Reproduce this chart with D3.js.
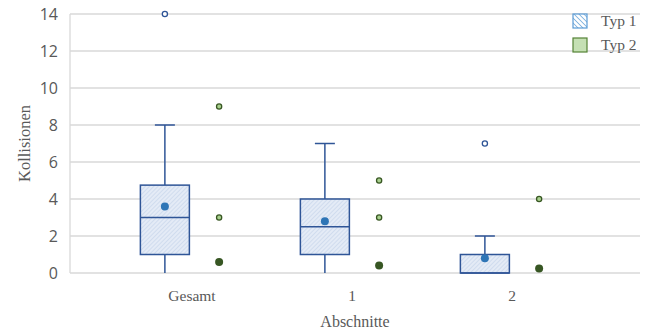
<!DOCTYPE html>
<html>
<head>
<meta charset="utf-8">
<script src="https://cdn.jsdelivr.net/npm/d3@7"></script>
<style>
  body { margin: 0; background: #fff; }
  svg text { fill: #595959; }
</style>
</head>
<body>
<div id="chart"></div>
<script>
// categories and series
const sections = ["Gesamt", "1", "2"];
const types = ["Typ 1", "Typ 2"];
const yTicks = [0, 2, 4, 6, 8, 10, 12, 14];

// box stats per section: [min, q1, median, q3, max]
const typ1Boxes = [[0, 1, 3, 4.75, 8], [0, 1, 2.5, 4, 7], [0, 0, 0, 1, 2]];
const typ1Means = [3.6, 2.8, 0.8];
const typ1Outliers = [[14], [], [7]];

const typ2Boxes = [[0, 0, 0, 0, 0], [0, 0, 0, 0, 0], [0, 0, 0, 0, 0]];
const typ2Means = [0.6, 0.4, 0.25];
const typ2Outliers = [[9, 3], [5, 3], [4]];

const W = 645, H = 330;
const plot = {left: 70, right: 640, top: 14, bottom: 273};

const svg = d3.select("#chart").append("svg")
    .attr("width", W).attr("height", H);

const defs = svg.append("defs");
const pat = defs.append("pattern")
    .attr("id", "hatch").attr("patternUnits", "userSpaceOnUse")
    .attr("width", 3).attr("height", 3)
    .attr("patternTransform", "rotate(45)");
pat.append("rect").attr("width", 3).attr("height", 3).attr("fill", "#e4ebf6");
pat.append("line").attr("x1", 0).attr("y1", 0).attr("x2", 0).attr("y2", 3)
    .attr("stroke", "#c3d2ea").attr("stroke-width", 1.2);

const patL = defs.append("pattern")
    .attr("id", "hatchL").attr("patternUnits", "userSpaceOnUse")
    .attr("width", 3.5).attr("height", 3.5)
    .attr("patternTransform", "rotate(-45)");
patL.append("rect").attr("width", 3.5).attr("height", 3.5).attr("fill", "#fff");
patL.append("line").attr("x1", 0).attr("y1", 0).attr("x2", 0).attr("y2", 3.5)
    .attr("stroke", "#5b9bd5").attr("stroke-width", 1.3);

const y = d3.scaleLinear().domain([0, 14]).range([plot.bottom, plot.top]);
const x = d3.scaleBand().domain(sections).range([112, 592]);
const xs = d3.scaleBand().domain(types).range([0, x.bandwidth()]).paddingInner(0.05).paddingOuter(0.5);

// gridlines
svg.append("g").selectAll("line").data(yTicks).join("line")
    .attr("x1", plot.left).attr("x2", plot.right)
    .attr("y1", d => y(d)).attr("y2", d => y(d))
    .attr("stroke", "#d9d9d9").attr("stroke-width", 1.3);

svg.append("line")
    .attr("x1", plot.left).attr("x2", plot.left)
    .attr("y1", plot.top).attr("y2", plot.bottom)
    .attr("stroke", "#d9d9d9").attr("stroke-width", 1.3);

// y tick labels
svg.append("g").selectAll("text").data(yTicks).join("text")
    .attr("x", 58).attr("y", d => y(d)).attr("dy", "0.35em")
    .attr("text-anchor", "end")
    .style("font-family", "'Open Sans', sans-serif").style("font-size", "16px")
    .text(d => d);

// x labels
svg.append("g").selectAll("text").data(sections).join("text")
    .attr("x", d => x(d) + x.bandwidth() / 2).attr("y", 301)
    .attr("text-anchor", "middle")
    .style("font-family", "'Liberation Serif', serif").style("font-size", "15.5px")
    .text(d => d);

svg.append("text")
    .attr("x", 355).attr("y", 327).attr("text-anchor", "middle")
    .style("font-family", "'Liberation Serif', serif").style("font-size", "16px")
    .text("Abschnitte");

svg.append("text")
    .attr("transform", `translate(30,${(plot.top + plot.bottom) / 2}) rotate(-90)`)
    .attr("text-anchor", "middle")
    .style("font-family", "'Liberation Serif', serif").style("font-size", "16.5px")
    .text("Kollisionen");

const boxW = 49;

function drawSeries(type, boxes, means, outliers, st) {
    const g = svg.append("g");
    sections.forEach((s, i) => {
        const cx = x(s) + xs(type) + xs.bandwidth() / 2;
        const [mn, q1, md, q3, mx] = boxes[i];
        if (mx > q3) {
            g.append("line").attr("x1", cx).attr("x2", cx).attr("y1", y(q3)).attr("y2", y(mx))
                .attr("stroke", st.stroke).attr("stroke-width", 1.5);
            g.append("line").attr("x1", cx - 10).attr("x2", cx + 10).attr("y1", y(mx)).attr("y2", y(mx))
                .attr("stroke", st.stroke).attr("stroke-width", 1.5);
        }
        if (q1 > mn) {
            g.append("line").attr("x1", cx).attr("x2", cx).attr("y1", y(mn)).attr("y2", y(q1))
                .attr("stroke", st.stroke).attr("stroke-width", 1.5);
        }
        g.append("rect")
            .attr("x", cx - boxW / 2).attr("width", boxW)
            .attr("y", y(q3)).attr("height", Math.max(0, y(q1) - y(q3)))
            .attr("fill", st.fill).attr("stroke", st.boxStroke).attr("stroke-width", 1.5);
        if (q3 > q1) {
            g.append("line").attr("x1", cx - boxW / 2).attr("x2", cx + boxW / 2)
                .attr("y1", y(md)).attr("y2", y(md))
                .attr("stroke", st.stroke).attr("stroke-width", 1.5);
        }
        g.selectAll(null).data(outliers[i]).join("circle")
            .attr("cx", cx).attr("cy", d => y(d)).attr("r", 2.6)
            .attr("fill", st.outFill).attr("stroke", st.outStroke).attr("stroke-width", 1.3);
        g.append("circle").attr("cx", cx).attr("cy", y(means[i])).attr("r", 4)
            .attr("fill", st.mean);
    });
}

drawSeries("Typ 1", typ1Boxes, typ1Means, typ1Outliers, {
    stroke: "#2f5597", boxStroke: "#2f5597", fill: "url(#hatch)",
    outFill: "#fff", outStroke: "#2f5597", mean: "#2e75b6"
});
drawSeries("Typ 2", typ2Boxes, typ2Means, typ2Outliers, {
    stroke: "#e2efda", boxStroke: "#e9f1e4", fill: "#c5e0b4",
    outFill: "#a9d18e", outStroke: "#385723", mean: "#375623"
});

// legend
const legend = svg.append("g");
const legendStyles = [
    {fill: "url(#hatchL)", stroke: "#5b9bd5"},
    {fill: "#c5e0b4", stroke: "#548235"}
];
types.forEach((t, i) => {
    const ly = 14 + i * 24;
    legend.append("rect").attr("x", 573).attr("y", ly).attr("width", 14).attr("height", 14)
        .attr("fill", legendStyles[i].fill).attr("stroke", legendStyles[i].stroke).attr("stroke-width", 1.2);
    legend.append("text").attr("x", 601).attr("y", ly + 7).attr("dy", "0.35em")
        .style("font-family", "'Liberation Serif', serif").style("font-size", "15.5px")
        .text(t);
});
</script>
</body>
</html>
